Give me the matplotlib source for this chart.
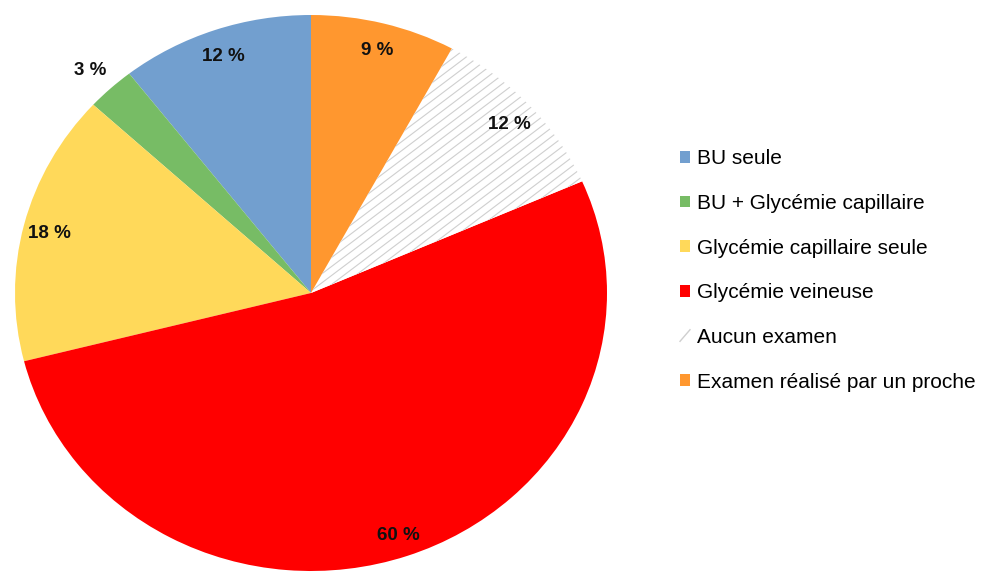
import matplotlib
matplotlib.use('Agg')
import matplotlib.pyplot as plt
import numpy as np
from matplotlib.collections import LineCollection
from matplotlib.lines import Line2D
from matplotlib.legend_handler import HandlerBase

plt.rcParams['font.family'] = ['Liberation Sans', 'DejaVu Sans']

# examen réalisé avant l'arrivée (en % des patients)
categories = ['BU seule', 'BU + Glycémie capillaire', 'Glycémie capillaire seule',
              'Glycémie veineuse', 'Aucun examen', 'Examen réalisé par un proche']
values = [12, 3, 18, 60, 12, 9]
colors = ['#729fcf', '#77bc65', '#ffd95a', '#ff0000', '#ffffff', '#ff972f']
HATCH_GREY = '#cfcfcf'

fig = plt.figure(figsize=(9.87, 5.72), dpi=100)
ax = fig.add_axes([15 / 987, 1 / 572, 592 / 987, 556 / 572])

wedges, _ = ax.pie(values, colors=colors, startangle=90, counterclock=True,
                   wedgeprops=dict(linewidth=0))

# léger étirement horizontal
ax.set_aspect('auto')
ax.set_xlim(-1, 1)
ax.set_ylim(-1, 1)

# hachures fines pour "Aucun examen" (pente ~37 deg, pas de 9 px)
sx, sy = 296.0, 278.0  # px par unité
m = np.tan(np.deg2rad(37)) * sx / sy
step = 9 / sy
segs = [[(-1.2, c - 1.2 * m), (1.2, c + 1.2 * m)] for c in np.arange(-2, 2, step)]
lc = LineCollection(segs, colors=HATCH_GREY, linewidths=0.8)
ax.add_collection(lc)
lc.set_clip_path(wedges[4])

# étiquettes de pourcentage
for w, v in zip(wedges, values):
    mid = np.deg2rad((w.theta1 + w.theta2) / 2)
    r = 1.10 if v < 5 else 0.91
    ax.text(r * np.cos(mid), r * np.sin(mid) - 0.01, f'{v} %', ha='center', va='center',
            fontsize=13.5, fontweight='bold', color='#111111')


class DiagHandler(HandlerBase):
    def create_artists(self, legend, orig_handle, xdescent, ydescent, width, height,
                       fontsize, trans):
        ln = Line2D([-xdescent, -xdescent + width], [-ydescent, -ydescent + height],
                    color=HATCH_GREY, lw=1.0, transform=trans)
        return [ln]


diag = Line2D([], [])
handles = list(wedges)
handles[4] = diag

fig.legend(handles, categories, loc='center left', bbox_to_anchor=(680 / 987, 1 - 270.5 / 572),
           frameon=False, fontsize=15, handlelength=0.48, handleheight=0.48,
           handletextpad=0.33, labelspacing=1.23, borderpad=0, borderaxespad=0,
           handler_map={diag: DiagHandler()})

fig.savefig('out.png', dpi=100)
